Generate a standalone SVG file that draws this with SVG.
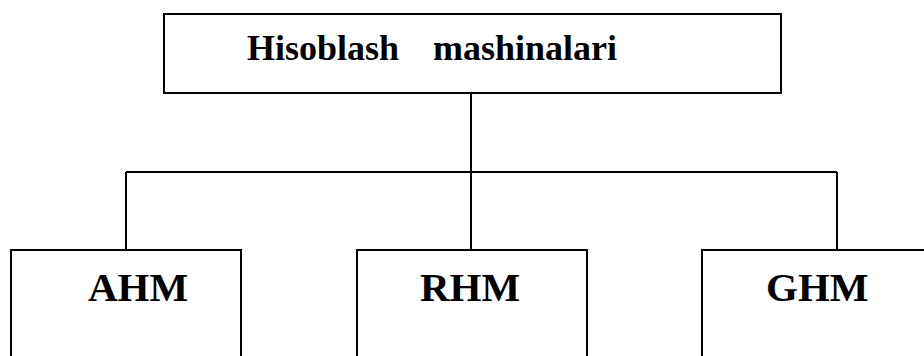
<svg xmlns="http://www.w3.org/2000/svg" width="924" height="356" viewBox="0 0 924 356">
  <style>
    .box { fill: #ffffff; stroke: #000000; stroke-width: 2; }
    .wire { fill: none; stroke: #000000; stroke-width: 2; }
    text { font-family: "Times New Roman", Times, "Liberation Serif", "DejaVu Serif", serif; font-weight: 700; fill: #000000; }
    .title { font-size: 36px; }
    .label { font-size: 41px; }
  </style>
  <rect width="924" height="356" fill="#ffffff"/>

  <!-- connectors: trunk from the root down to the bus, then a drop to each child -->
  <g id="connectors">
    <path class="wire" d="M471 93 V250"/>
    <path class="wire" d="M126 172 H837"/>
    <path class="wire" d="M126 172 V250"/>
    <path class="wire" d="M837 172 V250"/>
  </g>

  <g id="root">
    <rect class="box" x="164" y="14" width="617" height="79"/>
    <text class="title" y="60"><tspan x="247">Hisoblash</tspan><tspan x="433">mashinalari</tspan></text>
  </g>

  <g id="ahm">
    <rect class="box" x="11" y="250" width="230" height="120"/>
    <text class="label" x="88" y="301">AHM</text>
  </g>

  <g id="rhm">
    <rect class="box" x="357" y="250" width="230" height="120"/>
    <text class="label" x="420" y="301">RHM</text>
  </g>

  <g id="ghm">
    <rect class="box" x="702" y="250" width="230" height="120"/>
    <text class="label" x="766" y="301">GHM</text>
  </g>
</svg>
